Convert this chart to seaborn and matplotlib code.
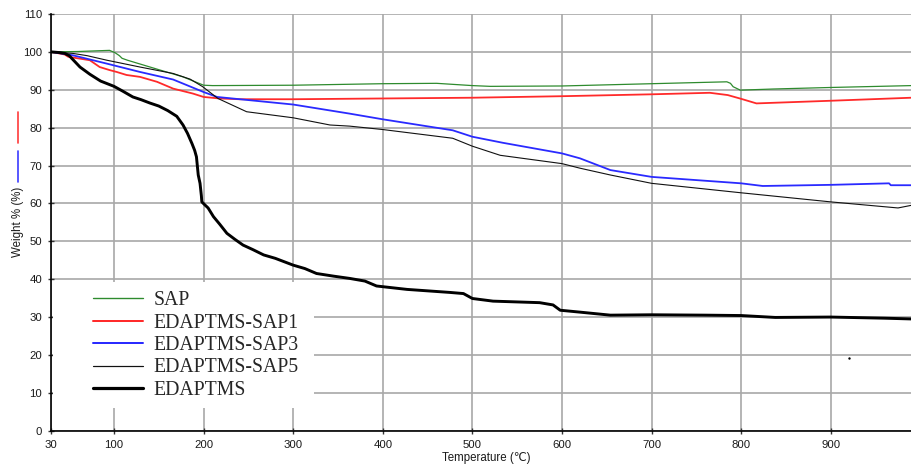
import matplotlib
matplotlib.use("Agg")
import matplotlib.pyplot as plt
from matplotlib.lines import Line2D
from matplotlib.patches import Rectangle
import seaborn as sns
import pandas as pd

# ---------------- data ----------------
sap_t = [30, 60, 95, 101, 106, 109, 115, 150, 177, 200, 210, 300, 400, 460, 500, 520,
         600, 700, 784, 788, 791, 799, 836, 899, 990]
sap_w = [100, 100.1, 100.4, 99.8, 99.0, 98.3, 97.8, 95.3, 93.4, 91.2, 91.1, 91.2, 91.6,
         91.7, 91.1, 90.9, 91.0, 91.6, 92.1, 91.7, 90.8, 89.9, 90.2, 90.6, 91.1]

sap1_t = [30, 45, 49, 73, 84, 95, 103, 114, 129, 148, 166, 188, 200, 218, 240, 300, 400,
          500, 600, 700, 765, 785, 800, 817, 900, 990]
sap1_w = [100, 99.3, 98.7, 97.8, 96.0, 95.2, 94.7, 93.9, 93.4, 92.1, 90.3, 89.0, 88.1,
          87.7, 87.5, 87.5, 87.7, 87.9, 88.3, 88.8, 89.2, 88.6, 87.6, 86.4, 87.1, 87.9]

sap3_t = [30, 54, 92, 129, 166, 200, 215, 300, 363, 400, 478, 500, 534, 600, 620, 654,
          700, 800, 824, 900, 965, 967, 990]
sap3_w = [100, 99.1, 96.9, 94.7, 92.7, 89.4, 88.1, 86.1, 83.7, 82.2, 79.3, 77.6, 76.0,
          73.2, 71.9, 68.8, 67.0, 65.3, 64.6, 64.9, 65.3, 64.8, 64.8]

sap5_t = [30, 54, 70, 92, 129, 166, 185, 199, 216, 248, 300, 341, 363, 400, 478, 500,
          531, 600, 620, 654, 700, 800, 900, 975, 990]
sap5_w = [100, 99.6, 99.0, 97.8, 96.0, 94.3, 92.8, 90.8, 87.7, 84.2, 82.6, 80.7, 80.4,
          79.5, 77.2, 75.1, 72.7, 70.5, 69.3, 67.5, 65.3, 62.8, 60.4, 58.8, 59.5]

edap_t = [30, 40, 45, 50, 62, 73, 85, 100, 110, 121, 130, 140, 150, 160, 170, 177, 182,
          187, 190, 192, 194, 196, 197.5, 198, 201, 205, 211, 218, 226, 235, 244, 255,
          267, 280, 300, 313, 326, 345, 363, 380, 393, 427, 475, 490, 500, 523, 575,
          590, 598, 620, 654, 700, 760, 800, 838, 900, 960, 990]
edap_w = [100, 99.8, 99.6, 99.0, 96.0, 94.1, 92.3, 90.9, 89.6, 88.1, 87.4, 86.5, 85.7,
          84.5, 83.0, 80.7, 78.5, 75.8, 74.0, 72.3, 67.5, 65.3, 62.0, 60.4, 59.7, 58.8,
          56.5, 54.5, 52.1, 50.5, 49.0, 47.8, 46.4, 45.5, 43.7, 42.8, 41.5, 40.8, 40.2,
          39.5, 38.2, 37.3, 36.5, 36.2, 34.9, 34.2, 33.8, 33.2, 31.8, 31.3, 30.5, 30.6,
          30.5, 30.4, 29.9, 30.0, 29.7, 29.5]

stray_t = [920.5]
stray_w = [19.2]

labels = ["SAP", "EDAPTMS-SAP1", "EDAPTMS-SAP3", "EDAPTMS-SAP5", "EDAPTMS"]
x_ticks = [30, 100, 200, 300, 400, 500, 600, 700, 800, 900]
y_ticks = list(range(0, 111, 10))

# ---------------- style ----------------
sns.set_theme(style="white")
plt.rcParams["font.family"] = ["Liberation Sans", "DejaVu Sans"]

W, H = 911, 466
fig = plt.figure(figsize=(W / 100, H / 100), dpi=100)
ax = fig.add_axes([51.3 / W, 1 - 430.7 / H, (W - 51.3) / W, (430.7 - 14) / H])

series = [
    (sap_t, sap_w, "#2e8b2e", 0.9),
    (sap1_t, sap1_w, "#ff2a2a", 1.3),
    (sap3_t, sap3_w, "#2a2aff", 1.3),
    (sap5_t, sap5_w, "#111111", 0.8),
    (edap_t, edap_w, "#000000", 2.1),
]
handles = []
for (t, w, c, lw), lab in zip(series, labels):
    df = pd.DataFrame({"T": t, "W": w})
    sns.lineplot(data=df, x="T", y="W", ax=ax, color=c, linewidth=lw,
                 sort=False, estimator=None, zorder=3)
    handles.append(Line2D([0], [0], color=c, linewidth=lw * 1.1))

sns.scatterplot(x=stray_t, y=stray_w, ax=ax, color="black", s=3, linewidth=0, zorder=3)

ax.set_xlim(30, 989.5)
ax.set_ylim(0, 110)
ax.set_xticks(x_ticks)
ax.set_yticks(y_ticks)
ax.grid(True, color="#a8a8a8", linewidth=1.2)
ax.set_axisbelow(True)

for s in ["top", "right"]:
    ax.spines[s].set_visible(False)
for s in ["left", "bottom"]:
    ax.spines[s].set_color("black")
    ax.spines[s].set_linewidth(1.2)

ax.tick_params(axis="both", which="both", direction="inout", length=5, width=1.0,
               color="#333333", labelsize=8.2, labelcolor="#1a1a1a", pad=4,
               left=True, bottom=True)

ax.set_xlabel("Temperature (\u2103)", fontsize=8.3, color="#1a1a1a")
ax.xaxis.set_label_coords((486 - 51.3) / (W - 51.3), -(452.5 - 430.7) / (430.7 - 14))
ax.set_ylabel("Weight % (%)", fontsize=8.3, color="#1a1a1a")
ax.yaxis.set_label_coords(-(51.3 - 24.0) / (W - 51.3), (430.7 - 221.7) / (430.7 - 14))

# white area behind legend
ax.add_patch(Rectangle((0.002, 0.054), 0.303, 0.303, transform=ax.transAxes,
                       facecolor="white", edgecolor="none", zorder=1.5))

leg = ax.legend(handles, labels, loc="center left",
                bbox_to_anchor=(92.7 / W, 1 - 345.6 / H), bbox_transform=fig.transFigure,
                frameon=False, borderpad=0, borderaxespad=0, handlelength=2.55,
                handletextpad=0.55, labelspacing=0.17,
                prop={"family": "Liberation Serif", "size": 14.2})
leg.set_zorder(4)

# coloured marks next to the y label
fig.add_artist(Line2D([18 / W, 18 / W], [1 - 111.7 / H, 1 - 142.7 / H],
                      color="#ff3b3b", linewidth=1.2))
fig.add_artist(Line2D([18 / W, 18 / W], [1 - 150.7 / H, 1 - 181.5 / H],
                      color="#3b3bff", linewidth=1.2))

fig.savefig("out.png", dpi=100)
